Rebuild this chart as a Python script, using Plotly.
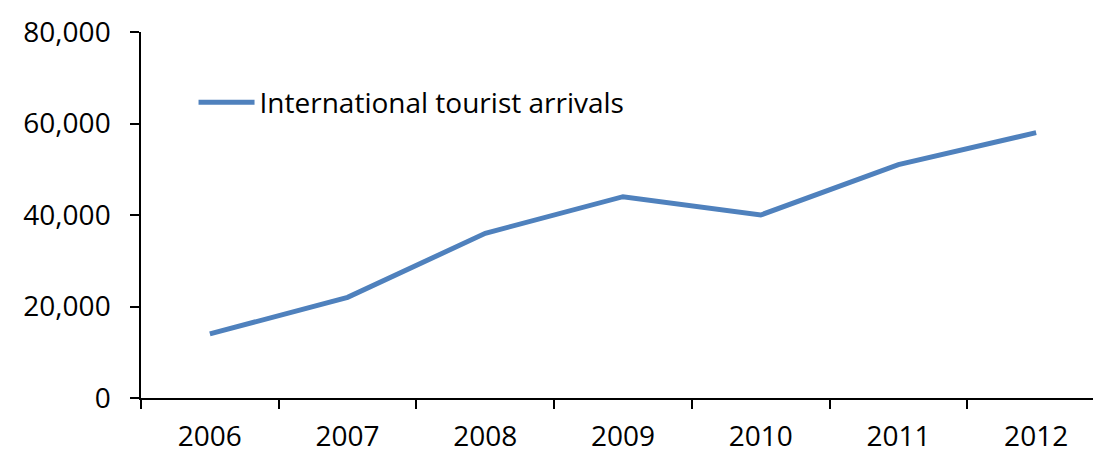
import plotly.graph_objects as go

years = ["2006", "2007", "2008", "2009", "2010", "2011", "2012"]
arrivals = [14000, 22000, 36000, 44000, 40000, 51000, 58000]
series_name = "International tourist arrivals"

fig = go.Figure()
fig.add_trace(go.Scatter(
    x=years, y=arrivals, mode="lines", name=series_name,
    line=dict(color="#4F81BD", width=5), showlegend=True,
))

font = dict(family="Open Sans, Noto Sans, sans-serif", size=28, color="black")
fig.update_layout(
    width=1101, height=453,
    margin=dict(l=133, r=4, t=24, b=63, autoexpand=False),
    paper_bgcolor="white", plot_bgcolor="white",
    font=font,
    showlegend=True,
    legend=dict(x=0.0545, y=0.807, xanchor="left", yanchor="middle",
                bgcolor="rgba(0,0,0,0)", font=font, itemwidth=56),
    xaxis=dict(type="category", range=[-0.5, 6.5], tickson="boundaries",
               showline=True, linecolor="black", linewidth=1.5,
               ticks="outside", ticklen=9, tickwidth=1.5, tickcolor="black",
               showgrid=False, zeroline=False, ticklabelstandoff=13,
               automargin=False),
    yaxis=dict(range=[0, 80000], tickvals=[0, 20000, 40000, 60000, 80000],
               tickformat=",d", showline=True, linecolor="black", linewidth=1.5,
               ticks="outside", ticklen=9, tickwidth=1.5, tickcolor="black",
               showgrid=False, zeroline=False, ticklabelstandoff=14,
               automargin=False),
)

fig.write_html("out.html")
